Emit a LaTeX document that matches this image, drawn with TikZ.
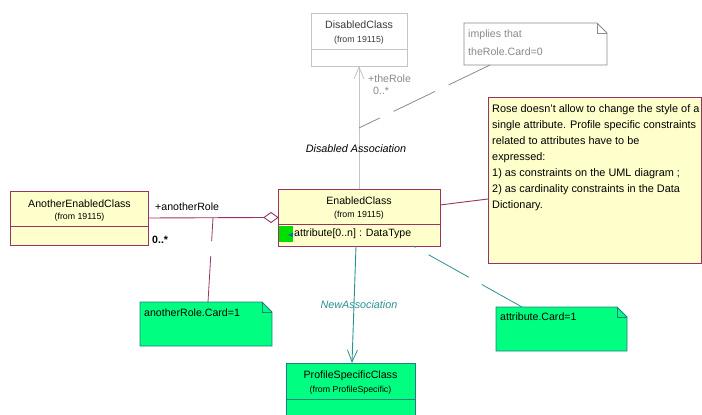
\documentclass[tikz,border=0pt]{standalone}
\usepackage{fontspec}
\setmainfont{Liberation Sans}
\usetikzlibrary{arrows.meta}
\definecolor{cmaroon}{HTML}{993366}
\definecolor{cyell}{HTML}{FFFFCC}
\definecolor{cgreen}{HTML}{00FF80}
\definecolor{cgreenedge}{HTML}{1E7F7F}
\definecolor{cteal}{HTML}{2A9090}
\definecolor{lgray}{HTML}{C4C4C4}
\definecolor{mgray}{HTML}{8A8A8A}
\definecolor{dgray}{HTML}{3A3A3A}
\definecolor{iconG}{HTML}{00E000}
\begin{document}
\begin{tikzpicture}[x=1pt,y=-1pt,
  box/.style={rectangle, inner sep=0pt, outer sep=0pt, line width=0.9pt},
  yclass/.style={box, draw=cmaroon, fill=cyell},
  gclass/.style={box, draw=cgreenedge, fill=cgreen},
  dclass/.style={box, draw=lgray, fill=white},
  txt/.style={inner sep=0pt, font=\fontsize{10.6}{12}\selectfont},
  smalltxt/.style={inner sep=0pt, font=\fontsize{8.8}{10}\selectfont},
  notedash/.style={dash pattern=on 46pt off 15pt, line width=0.8pt},
  openhead/.style={-{Straight Barb[length=12pt,width=10pt,line width=0.8pt]}},
]
\useasboundingbox (0,0) rectangle (702,415);

% ---------- class boxes ----------
\node[dclass, minimum width=96pt, minimum height=53pt] (disabled) at (359,39.5) {};
\draw[lgray, line width=0.9pt] ([yshift=-36pt]disabled.north west) -- ([yshift=-36pt]disabled.north east);
\node[txt, text=dgray] (disname) at (359,25) {DisabledClass};
\node[smalltxt, text=dgray] (disfrom) at (359,40) {(from 19115)};

\node[yclass, minimum width=162pt, minimum height=57pt] (enabled) at (359,217.5) {};
\draw[cmaroon, line width=0.9pt] ([yshift=-35pt]enabled.north west) -- ([yshift=-35pt]enabled.north east);
\node[txt] (enname) at (359,200.5) {EnabledClass};
\node[smalltxt] (enfrom) at (359,215.5) {(from 19115)};
\node[box, fill=iconG, minimum width=14pt, minimum height=16pt] (icon) at (286,234) {};
\fill[cteal!70!blue] ([xshift=2pt,yshift=-1pt]icon.center) -- ([xshift=7pt,yshift=1.5pt]icon.center) -- ([xshift=7pt,yshift=-3pt]icon.center) -- cycle;
\node[txt, anchor=west] (attr) at (294,234) {attribute[0..n] : DataType};

\node[yclass, minimum width=138pt, minimum height=54pt] (another) at (79,218) {};
\draw[cmaroon, line width=0.9pt] ([yshift=-35pt]another.north west) -- ([yshift=-35pt]another.north east);
\node[txt] (anname) at (79.5,203.3) {AnotherEnabledClass};
\node[smalltxt] (anfrom) at (79.5,217.3) {(from 19115)};

\node[gclass, minimum width=129pt, minimum height=54pt] (profile) at (350.5,390) {};
\draw[cgreenedge, line width=0.9pt] ([yshift=-36pt]profile.north west) -- ([yshift=-36pt]profile.north east);
\node[txt] (prname) at (350.5,376) {ProfileSpecificClass};
\node[smalltxt] (prfrom) at (350.5,390) {(from ProfileSpecific)};

% ---------- notes ----------
\node[box, minimum width=143pt, minimum height=42pt] (impl) at (535.5,44) {};
\draw[mgray, line width=0.8pt, fill=white] (impl.north west) -- ([xshift=-10pt]impl.north east) -- ([yshift=-10pt]impl.north east) -- (impl.south east) -- (impl.south west) -- cycle;
\draw[mgray, line width=0.8pt] ([xshift=-10pt]impl.north east) -- ([xshift=-10pt,yshift=-10pt]impl.north east) -- ([yshift=-10pt]impl.north east);
\node[txt, text=mgray, anchor=west] (impl1) at (468,35) {implies that};
\node[txt, text=mgray, anchor=west] (impl2) at (468,52) {theRole.Card=0};

\node[box, draw=cmaroon, fill=cyell, minimum width=213pt, minimum height=166pt] (bignote) at (594.5,180) {};
\node[inner sep=0pt, anchor=north west, align=left, font=\fontsize{10.9}{16}\selectfont] (bigtext) at (492,104.3)
 {Rose doesn't allow to change the style of a\\
  single attribute. Profile specific constraints\\
  related to attributes have to be\\
  expressed:\\
  1) as constraints on the UML diagram ;\\
  2) as cardinality constraints in the Data\\
  Dictionary.};

\node[box, minimum width=132pt, minimum height=44pt] (arnote) at (206,324) {};
\draw[cgreenedge, line width=0.8pt, fill=cgreen] (arnote.north west) -- ([xshift=-10pt]arnote.north east) -- ([yshift=-10pt]arnote.north east) -- (arnote.south east) -- (arnote.south west) -- cycle;
\draw[cgreenedge, line width=0.8pt] ([xshift=-10pt]arnote.north east) -- ([xshift=-10pt,yshift=-10pt]arnote.north east) -- ([yshift=-10pt]arnote.north east);
\node[txt, anchor=west] (artext) at (144,313) {anotherRole.Card=1};

\node[box, minimum width=131pt, minimum height=44pt] (atnote) at (561.5,329) {};
\draw[cgreenedge, line width=0.8pt, fill=cgreen] (atnote.north west) -- ([xshift=-10pt]atnote.north east) -- ([yshift=-10pt]atnote.north east) -- (atnote.south east) -- (atnote.south west) -- cycle;
\draw[cgreenedge, line width=0.8pt] ([xshift=-10pt]atnote.north east) -- ([xshift=-10pt,yshift=-10pt]atnote.north east) -- ([yshift=-10pt]atnote.north east);
\node[txt, anchor=west] (attext) at (500,317) {attribute.Card=1};

% ---------- associations ----------
\draw[lgray, line width=0.9pt, openhead] (enabled.north) -- (disabled.south);
\node[txt, text=mgray, anchor=west] (therole) at (368,78.5) {+theRole};
\node[txt, text=mgray, anchor=west] (thecard) at (373,90.5) {0..*};
\node[txt, font=\fontsize{10.8}{12}\selectfont\itshape] (disassoc) at (356,149) {Disabled Association};

\draw[cmaroon, line width=0.9pt] (another.east) -- ([xshift=-14pt]enabled.west);
\draw[cmaroon, line width=0.9pt, fill=white] (enabled.west) -- ([xshift=-7pt,yshift=5pt]enabled.west) -- ([xshift=-14pt]enabled.west) -- ([xshift=-7pt,yshift=-5pt]enabled.west) -- cycle;
\node[txt, anchor=west] (anrole) at (155,207) {+anotherRole};
\node[txt, anchor=west, font=\fontsize{10.6}{12}\selectfont\bfseries] (ancard) at (152,240) {0..*};

\draw[cteal, line width=0.9pt, openhead] ([xshift=-3pt]enabled.south) -- ([xshift=1.5pt]profile.north);
\node[txt, text=cteal, font=\fontsize{10.8}{12}\selectfont\itshape] (newassoc) at (359,305) {NewAssociation};

% ---------- note anchors ----------
\coordinate (a1) at (359,128);
\coordinate (a2) at (213,218);
\draw[mgray, notedash] ([xshift=-45.5pt]impl.south) -- (a1);
\draw[cmaroon, notedash] ([xshift=2pt]arnote.north) -- (a2);
\draw[cteal, notedash] ([xshift=-39.5pt]atnote.north) -- ([xshift=54pt]enabled.south);
\draw[cmaroon, line width=0.9pt] ([yshift=-19pt]bignote.west) -- ([yshift=12.5pt]enabled.east);
\end{tikzpicture}
\end{document}
